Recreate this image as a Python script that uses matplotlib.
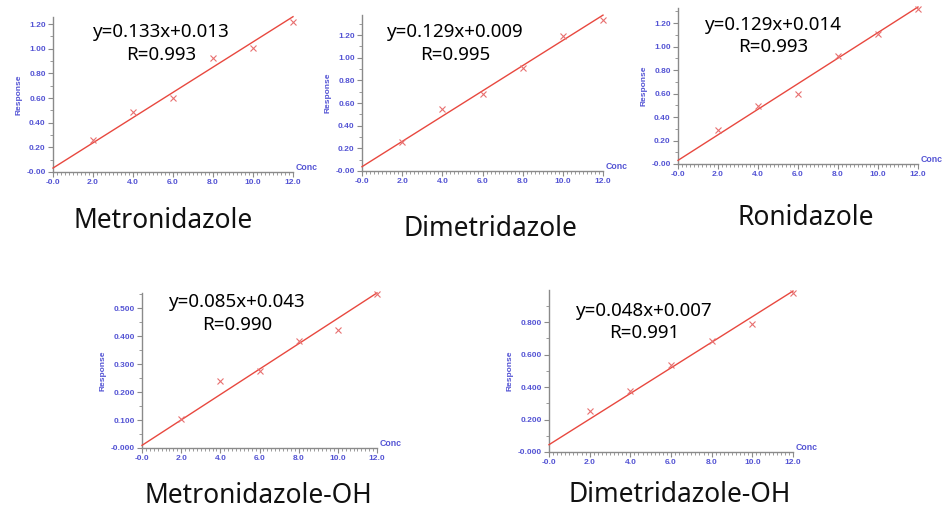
import matplotlib
matplotlib.use("Agg")
import matplotlib.pyplot as plt
import numpy as np
from matplotlib.ticker import FixedLocator, FixedFormatter, MultipleLocator

# ---------------- data ----------------
conc = [2, 4, 6, 8, 10, 12]

names = ["Metronidazole", "Dimetridazole", "Ronidazole",
         "Metronidazole-OH", "Dimetridazole-OH"]

resp_mnz = [0.262, 0.484, 0.600, 0.924, 1.005, 1.220]
resp_dmz = [0.259, 0.547, 0.679, 0.906, 1.190, 1.330]
resp_rnz = [0.292, 0.491, 0.596, 0.916, 1.110, 1.319]
resp_mnzoh = [0.105, 0.240, 0.274, 0.383, 0.423, 0.551]
resp_dmzoh = [0.253, 0.375, 0.535, 0.682, 0.790, 0.978]

# drawn calibration line (intercept, slope)
line_intercept = [0.032, 0.038, 0.031, 0.0095, 0.045]
line_slope = [0.1023, 0.1115, 0.1088, 0.0454, 0.0788]

equations = ["y=0.133x+0.013", "y=0.129x+0.009", "y=0.129x+0.014",
             "y=0.085x+0.043", "y=0.048x+0.007"]
r_values = ["R=0.993", "R=0.995", "R=0.993", "R=0.990", "R=0.991"]

x_ticks = [0, 2, 4, 6, 8, 10, 12]
x_ticklabels = ["-0.0", "2.0", "4.0", "6.0", "8.0", "10.0", "12.0"]

y_ticks_a = [0.0, 0.2, 0.4, 0.6, 0.8, 1.0, 1.2]
y_labels_a = ["-0.00", "0.20", "0.40", "0.60", "0.80", "1.00", "1.20"]
y_ticks_b = [0.0, 0.1, 0.2, 0.3, 0.4, 0.5]
y_labels_b = ["-0.000", "0.100", "0.200", "0.300", "0.400", "0.500"]
y_ticks_c = [0.0, 0.2, 0.4, 0.6, 0.8]
y_labels_c = ["-0.000", "0.200", "0.400", "0.600", "0.800"]

responses = [resp_mnz, resp_dmz, resp_rnz, resp_mnzoh, resp_dmzoh]
yticks = [y_ticks_a, y_ticks_a, y_ticks_a, y_ticks_b, y_ticks_c]
ylabels = [y_labels_a, y_labels_a, y_labels_a, y_labels_b, y_labels_c]
yminor = [0.1, 0.1, 0.1, 0.05, 0.1]

# ---------------- layout (pixels) ----------------
W, H = 950, 514
# left, right, bottom, top (pixels), ymax
boxes = [(53, 293, 172, 17, 1.257),
         (362, 603, 171, 15, 1.377),
         (678, 918, 164, 8, 1.328),
         (142, 377, 448, 293, 0.554),
         (549, 793, 452, 290, 0.997)]
eq_pos = [(161, 32, 55), (455, 32, 55), (773, 25, 47), (237, 302, 325), (644, 311, 333)]
title_pos = [(163, 228), (490, 236), (806, 225), (258, 503), (680, 502)]

blue = "#5454d4"
grey = "#8a8a8a"
red_line = "#e8483f"
red_mark = "#e87070"

fig = plt.figure(figsize=(W / 100, H / 100), dpi=100)
fig.patch.set_facecolor("white")

for i in range(5):
    l, r, b, t, ymax = boxes[i]
    ax = fig.add_axes([l / W, 1 - b / H, (r - l) / W, (b - t) / H])
    ax.set_xlim(0, 12)
    ax.set_ylim(0, ymax)
    for s in ["top", "right"]:
        ax.spines[s].set_visible(False)
    for s in ["left", "bottom"]:
        ax.spines[s].set_color(grey)
        ax.spines[s].set_linewidth(1.0)

    xs = np.array([0, 12])
    ax.plot(xs, line_intercept[i] + line_slope[i] * xs, color=red_line,
            lw=1.0, clip_on=False, zorder=3)
    ax.plot(conc, responses[i], linestyle="none", marker="x", ms=4.5,
            mew=0.8, color=red_mark, clip_on=False, zorder=4)

    ax.xaxis.set_major_locator(FixedLocator(x_ticks))
    ax.xaxis.set_major_formatter(FixedFormatter(x_ticklabels))
    ax.xaxis.set_minor_locator(MultipleLocator(0.2))
    ax.yaxis.set_major_locator(FixedLocator(yticks[i]))
    ax.yaxis.set_major_formatter(FixedFormatter(ylabels[i]))
    ax.yaxis.set_minor_locator(MultipleLocator(yminor[i]))
    ax.tick_params(axis="both", which="major", length=3.5, width=0.8,
                   color=grey, labelcolor=blue, pad=1.8)
    ax.tick_params(axis="both", which="minor", length=2, width=0.6, color=grey)
    for lab in ax.get_xticklabels() + ax.get_yticklabels():
        lab.set_fontfamily("Liberation Sans")
        lab.set_fontweight("bold")
        lab.set_fontsize(6)

    ax.set_ylabel("Response", color=blue, fontsize=6, fontweight="bold",
                  family="Liberation Sans", labelpad=3)
    ax.text(1.012, 0.0, "Conc", transform=ax.transAxes, color=blue,
            fontsize=6.3, fontweight="bold", family="Liberation Sans",
            ha="left", va="bottom")

    ex, ey1, ey2 = eq_pos[i]
    fig.text(ex / W, 1 - ey1 / H, equations[i], ha="center", va="center",
             fontsize=13.5, family="Noto Sans", color="black")
    fig.text(ex / W, 1 - ey2 / H, r_values[i], ha="center", va="center",
             fontsize=13.5, family="Noto Sans", color="black")
    tx, ty = title_pos[i]
    fig.text(tx / W, 1 - ty / H, names[i], ha="center", va="baseline",
             fontsize=19, family="Noto Sans", color="#111111")

fig.savefig("out.png", dpi=100, facecolor="white")
